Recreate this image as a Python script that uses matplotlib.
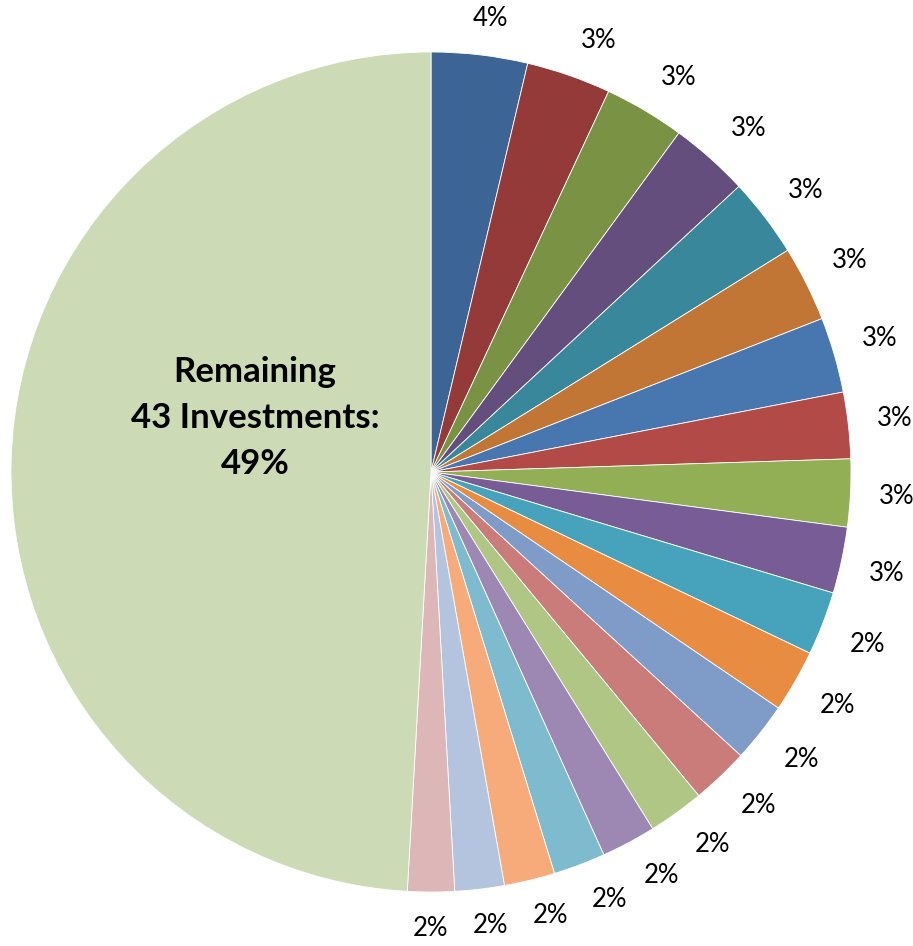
import numpy as np
import matplotlib.pyplot as plt

# participacion de cada inversion (%), en sentido horario desde las 12
valores = [3.7, 3.25, 3.1, 3.05, 3.05, 2.9, 2.9, 2.55, 2.6, 2.55,
           2.45, 2.4, 2.3, 2.2, 2.15, 2.1, 2.0, 1.95, 1.9, 1.8, 49.1]
etiquetas = ['4%', '3%', '3%', '3%', '3%', '3%', '3%', '3%', '3%', '3%',
             '2%', '2%', '2%', '2%', '2%', '2%', '2%', '2%', '2%', '2%',
             'Remaining\n43 Investments:\n49%']
colores = ['#3C6494', '#943B3A', '#7A9243', '#634E7E', '#38879A', '#C27635',
           '#4877B0', '#B24A48', '#92AF55', '#775C96', '#46A3BB', '#E88C41',
           '#7F9BC7', '#CA7C7A', '#AFC684', '#9C88B2', '#7FBBCF', '#F8AB7A',
           '#B5C4DE', '#DDB7B7', '#CDDAB6']

plt.rcParams['font.family'] = ['Lato', 'DejaVu Sans']

fig = plt.figure(figsize=(9.13, 9.46), dpi=100)
ax = fig.add_axes([0, 0, 1, 1])

centro = (431, 474)
radio = 420

wedges, _ = ax.pie(valores, colors=colores, startangle=90, counterclock=False,
                   center=centro, radius=radio, normalize=True,
                   wedgeprops={'edgecolor': 'white', 'linewidth': 0.6})

# pie() fija sus propios limites, se reemplazan para trabajar en pixeles
ax.set_xlim(0, 913)
ax.set_ylim(0, 946)
ax.set_aspect('equal')
ax.axis('off')

# etiquetas afuera, al estilo Excel: la caja del texto se apoya por su esquina
r_etiq = radio + 24
dx_caja, dy_caja = 22, 12
for w, txt in zip(wedges[:-1], etiquetas[:-1]):
    ang = np.deg2rad((w.theta1 + w.theta2) / 2)
    ux, uy = np.cos(ang), np.sin(ang)
    x = centro[0] + r_etiq * ux + dx_caja * np.clip(3 * ux, -1, 1)
    y = centro[1] + r_etiq * uy + dy_caja * np.clip(3 * uy, -1, 1)
    ax.text(x, y, txt, ha='center', va='center', fontsize=18.5, color='black')

# etiqueta del resto dentro de la porcion
ax.text(centro[0] - 176, centro[1] + 54, etiquetas[-1], ha='center', va='center',
        fontsize=25, fontweight='bold', color='black', linespacing=1.55)

fig.savefig('out.png', dpi=100)
